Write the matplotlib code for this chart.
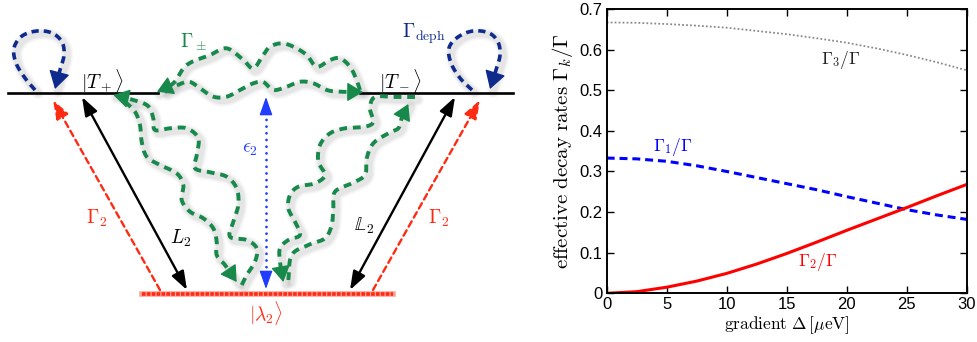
import numpy as np
import matplotlib
matplotlib.use("Agg")
import matplotlib.pyplot as plt
from matplotlib.patches import FancyArrowPatch
from matplotlib.ticker import FormatStrFormatter

plt.rcParams["mathtext.fontset"] = "cm"
plt.rcParams["font.family"] = ["Liberation Sans", "DejaVu Sans"]

# ---- data for the right-hand panel ----
gradient = [0, 2.5, 5, 7.5, 10, 12.5, 15, 17.5, 20, 22.5, 25, 27.5, 30]
gamma1 = [0.333, 0.331, 0.325, 0.314, 0.300, 0.285, 0.270, 0.255, 0.238, 0.222, 0.206, 0.193, 0.182]
gamma2 = [0.000, 0.004, 0.015, 0.030, 0.049, 0.072, 0.098, 0.126, 0.155, 0.183, 0.211, 0.240, 0.268]
gamma3 = [0.667, 0.666, 0.663, 0.659, 0.654, 0.646, 0.638, 0.628, 0.617, 0.603, 0.587, 0.569, 0.549]
xticks = [0, 5, 10, 15, 20, 25, 30]
yticks = [0, 0.1, 0.2, 0.3, 0.4, 0.5, 0.6, 0.7]

GREEN = "#17894a"
NAVY = "#0d2a8c"
RED = "#ff2a12"
BLUE = "#1f3cff"

W, H = 977, 342
fig = plt.figure(figsize=(W / 100, H / 100), dpi=100)

# ---------------- level diagram (pixel-like coordinates) ----------------
ax0 = fig.add_axes([0, 0, 520 / W, 1])
ax0.set_xlim(0, 520)
ax0.set_ylim(H, 0)
ax0.axis("off")


def smooth(pts, n=10):
    P = np.asarray(pts, float)
    P = np.vstack([2 * P[0] - P[1], P, 2 * P[-1] - P[-2]])
    out = []
    t = np.linspace(0, 1, n, endpoint=False)[:, None]
    for i in range(1, len(P) - 2):
        p0, p1, p2, p3 = P[i - 1], P[i], P[i + 1], P[i + 2]
        out.append(0.5 * (2 * p1 + (-p0 + p2) * t
                          + (2 * p0 - 5 * p1 + 4 * p2 - p3) * t ** 2
                          + (-p0 + 3 * p1 - 3 * p2 + p3) * t ** 3))
    out.append(P[-2][None])
    return np.vstack(out)


def soft_shadow(x, y, dx=3, dy=3):
    # a few wide, faint strokes stacked to give a blurred drop shadow
    for lw, a in [(9, 0.035), (7, 0.05), (5, 0.07)]:
        ax0.plot(np.asarray(x) + dx, np.asarray(y) + dy, color="0.35", lw=lw,
                 alpha=a, solid_capstyle="round", zorder=1)


def wavy_arrow(pts, color, lw=2.8, dashes=(2.0, 1.5), head=18):
    c = smooth(pts)
    soft_shadow(c[:, 0], c[:, 1])
    ax0.plot(c[:-3, 0], c[:-3, 1], color=color, lw=lw, dashes=dashes,
             dash_capstyle="butt", zorder=3)
    arr = FancyArrowPatch(posA=tuple(c[-6]), posB=tuple(c[-1]),
                          arrowstyle="-|>,head_length=0.55,head_width=0.33",
                          mutation_scale=head, color=color, lw=1.0,
                          shrinkA=0, shrinkB=0, zorder=4)
    ax0.add_patch(arr)


# energy levels
ax0.plot([8, 158], [92.5, 92.5], color="black", lw=1.9, zorder=2)
ax0.plot([360, 513], [92.5, 92.5], color="black", lw=1.9, zorder=2)
ax0.plot([142, 393], [294, 294], color=RED, lw=4.0, alpha=0.45, zorder=2)
ax0.plot([142, 393], [294, 294], color=RED, lw=2.6, dashes=(1.0, 0.35), zorder=2)

# dephasing loops
wavy_arrow([(35, 90), (25, 78), (16, 63), (14, 48), (22, 36), (37, 31), (52, 33),
            (62, 42), (64, 55), (60, 70), (55, 89)], NAVY, lw=2.6, dashes=(2.0, 1.4), head=20)
wavy_arrow([(472, 90), (460, 78), (451, 63), (449, 48), (458, 37), (473, 31), (489, 33),
            (498, 42), (500, 55), (496, 70), (490, 89)], NAVY, lw=2.6, dashes=(2.0, 1.4), head=20)

# transitions between the triplets
wavy_arrow([(360, 90), (356.7, 80), (350, 66.7), (340, 58.3), (330, 60), (316.7, 66.7),
            (306.7, 55), (293.3, 46.7), (281.7, 43.3), (270, 46.7), (263.3, 55),
            (253.3, 68.3), (243.3, 60), (226.7, 48.3), (210, 55), (186.7, 65),
            (173.3, 83.3), (157, 91.7)], GREEN)
wavy_arrow([(165, 92), (180, 84), (190, 82), (200, 88.3), (213.3, 96.7), (226.7, 96.7),
            (240, 90), (253.3, 83.3), (263.3, 82), (273.3, 90), (286.7, 86.7),
            (300, 81.7), (313.3, 83.3), (326.7, 90), (340, 91.7), (363, 92)], GREEN)

# transitions to and from the lower level
wavy_arrow([(241.7, 285), (246.7, 275), (255, 261.7), (256.7, 248.3), (246.7, 240),
            (230, 236.7), (233.3, 221.7), (238.3, 205), (236.7, 188.3), (226.7, 176.7),
            (210, 172.3), (195, 168.3), (196.7, 155), (198.3, 138.3), (186.7, 128.3),
            (170, 128.3), (155, 130), (153.3, 118.3), (148, 106), (133.3, 100),
            (113.3, 95)], GREEN)
wavy_arrow([(125, 101.7), (135, 111.7), (140, 125), (141.7, 141.7), (146.7, 156.7),
            (160, 165), (176.7, 173.3), (183.3, 185), (181.7, 200), (190, 211.7),
            (203.3, 218.3), (213.3, 228.3), (216.7, 241.7), (216.7, 255), (225, 265),
            (236.7, 282)], GREEN)
wavy_arrow([(415, 97), (395, 97), (375, 97), (370, 108.3), (373.3, 121.7), (365, 126.7),
            (345, 128.3), (330, 133.3), (320, 145), (318.3, 161.7), (325, 175),
            (315, 183.3), (298.3, 186.7), (290, 195), (288.3, 208.3), (295, 221.7),
            (300, 235), (288.3, 240), (280, 248.3), (280, 261.7), (283.3, 282)], GREEN)
wavy_arrow([(288.3, 280), (291.7, 255), (308.3, 245), (325, 238.3), (331.7, 225),
            (333.3, 208.3), (335, 191.7), (351.7, 183.3), (365, 175), (366.7, 158.3),
            (373.3, 143.3), (388.3, 133.3), (398.3, 128.3), (401.7, 118.3),
            (408.3, 104)], GREEN)

# straight couplings
arrow_kw = dict(arrowstyle="<|-|>,head_length=0.7,head_width=0.25", mutation_scale=16,
                color="black", lw=1.7, shrinkA=0, shrinkB=0, zorder=3)
ax0.add_patch(FancyArrowPatch((82, 97), (187, 290), **arrow_kw))
ax0.add_patch(FancyArrowPatch((455, 97), (350, 290), **arrow_kw))

red_kw = dict(arrowstyle="-|>,head_length=0.7,head_width=0.25", mutation_scale=16,
              color=RED, lw=1.7, linestyle=(0, (2.6, 1.8)), shrinkA=0, shrinkB=0, zorder=3)
ax0.add_patch(FancyArrowPatch((160, 290), (53, 100), **red_kw))
ax0.add_patch(FancyArrowPatch((373, 290), (480, 100), **red_kw))

# level splitting: dotted shaft with two heads
ax0.plot([266, 266], [106, 280], color=BLUE, lw=2.0, linestyle=(0, (0.01, 2.4)),
         dash_capstyle="round", zorder=3)
ax0.add_patch(FancyArrowPatch((266, 110), (266, 97),
                              arrowstyle="-|>,head_length=0.7,head_width=0.25",
                              mutation_scale=16, color=BLUE, lw=1.0,
                              shrinkA=0, shrinkB=0, zorder=3))
ax0.add_patch(FancyArrowPatch((266, 276), (266, 289),
                              arrowstyle="-|>,head_length=0.7,head_width=0.25",
                              mutation_scale=16, color=BLUE, lw=1.0,
                              shrinkA=0, shrinkB=0, zorder=3))

# labels
fs = 14
ax0.text(102, 81, r"$|T_+\rangle$", fontsize=fs, ha="center", va="center")
ax0.text(400, 81, r"$|T_-\rangle$", fontsize=fs, ha="center", va="center")
ax0.text(194, 42, r"$\Gamma_\pm$", fontsize=fs, color=GREEN, ha="center", va="center")
ax0.text(424, 34, r"$\Gamma_{\rm deph}$", fontsize=fs, color=NAVY, ha="center", va="center")
ax0.text(250, 150, r"$\epsilon_2$", fontsize=fs, color=BLUE, ha="center", va="center")
ax0.text(97, 218, r"$\Gamma_2$", fontsize=fs, color=RED, ha="center", va="center")
ax0.text(439, 218, r"$\Gamma_2$", fontsize=fs, color=RED, ha="center", va="center")
ax0.text(181, 238, r"$L_2$", fontsize=fs, ha="center", va="center")
ax0.text(364, 226, r"$\mathbb{L}_2$", fontsize=fs, ha="center", va="center")
ax0.text(266, 313, r"$|\lambda_2\rangle$", fontsize=fs, color=RED, ha="center", va="center")

# ---------------- effective decay rates ----------------
ax = fig.add_axes([606.7 / W, (H - 293.3) / H, 360 / W, 284.3 / H])
ax.plot(gradient, gamma3, color="#8a8a8a", lw=1.3, linestyle=(0, (1, 1.2)))
ax.plot(gradient, gamma1, color="#0000ff", lw=2.2, dashes=(2.6, 1.6))
ax.plot(gradient, gamma2, color="#ff0000", lw=2.2)

ax.text(19.5, 0.575, r"$\Gamma_3/\Gamma$", fontsize=12.5, color="#222222", ha="center", va="center")
ax.text(5.5, 0.360, r"$\Gamma_1/\Gamma$", fontsize=12.5, color="#0000ff", ha="center", va="center")
ax.text(17.6, 0.077, r"$\Gamma_2/\Gamma$", fontsize=12.5, color="#ff0000", ha="center", va="center")

ax.set_xlim(0, 30)
ax.set_ylim(0, 0.7)
ax.set_xticks(xticks)
ax.set_yticks(yticks)
ax.yaxis.set_major_formatter(FormatStrFormatter("%g"))
ax.tick_params(direction="in", top=True, right=True, length=5, width=1.0,
               labelsize=12, pad=3)
for s in ax.spines.values():
    s.set_linewidth(1.4)
ax.set_xlabel(r"$\mathrm{gradient}\ \Delta\,[\mu\mathrm{eV}]$", fontsize=12.5, labelpad=1)
ax.set_ylabel(r"$\mathrm{effective\ decay\ rates}\ \Gamma_k/\Gamma$", fontsize=15, labelpad=3)

fig.savefig("out.png", dpi=100)
